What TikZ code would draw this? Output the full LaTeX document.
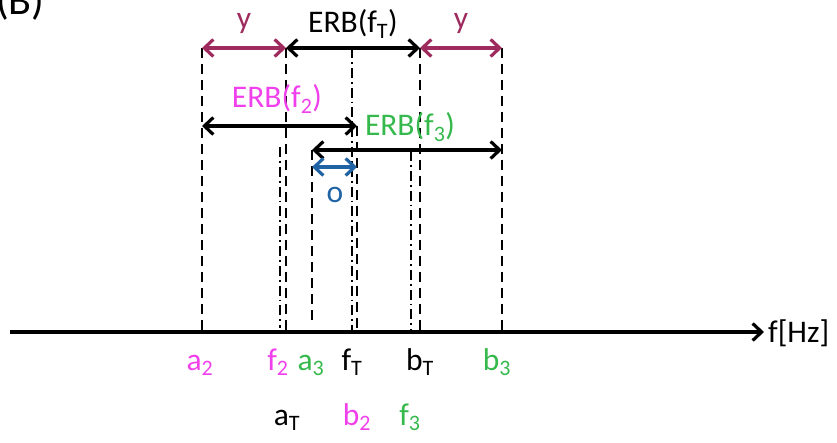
\documentclass[tikz,border=0pt]{standalone}
\usepackage{fontspec}
\setmainfont{Carlito}
\usetikzlibrary{arrows.meta}
\definecolor{mag}{HTML}{F040EC}
\definecolor{grn}{HTML}{35B84C}
\definecolor{mar}{HTML}{9E2A5E}
\definecolor{blu}{HTML}{1F63A5}
\begin{document}
\begin{tikzpicture}[x=1pt,y=-1pt,
  lbl/.style={font=\fontsize{31.5}{33}\selectfont, inner sep=0pt, anchor=base},
  dim/.style={line width=3.2pt, {Straight Barb[length=9pt,width=17pt]}-{Straight Barb[length=9pt,width=17pt]}},
  dline/.style={line width=2.4pt, dash pattern=on 10pt off 6pt},
  ddline/.style={line width=2.4pt, dash pattern=on 10pt off 4pt on 1.8pt off 4pt},
  axisline/.style={line width=3.2pt, -{Straight Barb[length=9pt,width=17pt]}}]
\useasboundingbox (0,0) rectangle (837,443);
% panel label
\node[font=\fontsize{42}{44}\selectfont, inner sep=0pt, anchor=base west] (panel) at (-4,15) {(B)};
% axis
\coordinate (ax0) at (10,332);
\coordinate (ax1) at (764,332);
\draw[axisline] (ax0) -- (ax1);
\node[lbl, anchor=base west] (hz) at (768,342) {f[Hz]};
% top coordinates
\coordinate (a2t) at (202,48);  \coordinate (a2b) at (202,332);
\coordinate (aTt) at (286,48);  \coordinate (aTb) at (286,334);
\coordinate (bTt) at (420,48);  \coordinate (bTb) at (420,334);
\coordinate (b3t) at (502,48);  \coordinate (b3b) at (502,332);
\coordinate (fTt) at (352,48);  \coordinate (fTb) at (352,332);
\coordinate (f2t) at (280,147); \coordinate (f2b) at (280,328);
\coordinate (b2t) at (357,126); \coordinate (b2b) at (357,334);
\coordinate (a3t) at (312,150); \coordinate (a3b) at (312,326);
\coordinate (f3t) at (411,151); \coordinate (f3b) at (411,330);
% vertical lines
\draw[dline] (a2t) -- (a2b);
\draw[dline] (aTt) -- (aTb);
\draw[dline] (bTt) -- (bTb);
\draw[dline] (b3t) -- (b3b);
\draw[dline] (b2t) -- (b2b);
\draw[dline] (a3t) -- (a3b);
\draw[ddline] (fTt) -- (fTb);
\draw[ddline] (f2t) -- (f2b);
\draw[ddline] (f3t) -- (f3b);
% dimension arrows
\draw[dim, mar] (a2t) -- (aTt);
\draw[dim] (aTt) -- (bTt);
\draw[dim, mar] (bTt) -- (b3t);
\coordinate (e2a) at (202,126);
\draw[dim] (e2a) -- (b2t);
\coordinate (e3b) at (502,150);
\draw[dim] (a3t) -- (e3b);
\coordinate (oa) at (312,167); \coordinate (ob) at (357,167);
\draw[dim, blu] (oa) -- (ob);
% top labels
\node[lbl, mar] (ly1) at (244,29) {y};
\node[lbl] (lerbT) at (353,33) {ERB(f\textsubscript{T})};
\node[lbl, mar] (ly2) at (461,29) {y};
\node[lbl, mag] (lerb2) at (277,108) {ERB(f\textsubscript{2})};
\node[lbl, grn] (lerb3) at (410,136) {ERB(f\textsubscript{3})};
\node[lbl, blu] (lo) at (335,203) {o};
% bottom labels row 1
\node[lbl, mag] (la2) at (200,370) {a\textsubscript{2}};
\node[lbl, mag] (lf2) at (278,370) {f\textsubscript{2}};
\node[lbl, grn] (la3) at (311,370) {a\textsubscript{3}};
\node[lbl] (lfT) at (352,370) {f\textsubscript{T}};
\node[lbl] (lbT) at (420,370) {b\textsubscript{T}};
\node[lbl, grn] (lb3) at (497,370) {b\textsubscript{3}};
% bottom labels row 2
\node[lbl] (laT) at (287,425) {a\textsubscript{T}};
\node[lbl, mag] (lb2) at (357,425) {b\textsubscript{2}};
\node[lbl, grn] (lf3) at (410,425) {f\textsubscript{3}};
\end{tikzpicture}
\end{document}
